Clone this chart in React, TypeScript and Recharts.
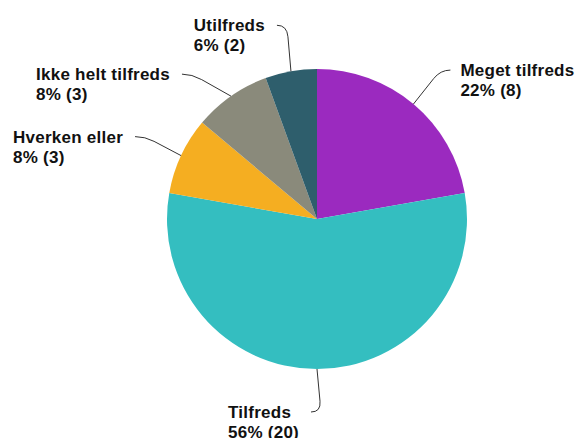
import React from 'react';
import { PieChart, Pie, Cell } from 'recharts';

const categories = ['Meget tilfreds', 'Tilfreds', 'Hverken eller', 'Ikke helt tilfreds', 'Utilfreds'];
const counts = [8, 20, 3, 3, 2];
const colors = ['#9b2abf', '#34bec0', '#f5ae21', '#8a8a7b', '#2e5e6c'];
// where each leader line ends, relative to the slice edge
const labelOffsets = [[37, -34], [-6, 43], [-46, -19], [-49, -22], [-14, -46]];

const data = categories.map((name, i) => ({ name, value: counts[i] }));
const total = counts.reduce((a, b) => a + b, 0);

const RAD = Math.PI / 180;
const FONT = 'bold 17px "Liberation Sans", Arial, sans-serif';
const SPACING = 0.25;

let ctx: CanvasRenderingContext2D | null = null;
const measure = (s: string) => {
  if (!ctx) {
    ctx = document.createElement('canvas').getContext('2d');
  }
  if (!ctx) return s.length * 9;
  ctx.font = FONT;
  return ctx.measureText(s).width + s.length * SPACING;
};

const renderLabel = (props: any) => {
  const { cx, cy, midAngle, outerRadius, name, value, index } = props;
  const cos = Math.cos(-midAngle * RAD);
  const sin = Math.sin(-midAngle * RAD);
  const right = cos > 0.01;
  const dir = right ? 1 : -1;
  const x0 = cx + outerRadius * cos;
  const y0 = cy + outerRadius * sin;
  const [dx, dy] = labelOffsets[index] || [dir * 40, 0];
  const x2 = x0 + dx;
  const y2 = y0 + dy;
  const xc = x2 - dir * 10;
  const yc = y2;
  const xa = x0 + (xc - x0) * 0.75;
  const ya = y0 + (yc - y0) * 0.75;
  const pct = Math.round((value / total) * 100);
  const line1 = name;
  const line2 = `${pct}% (${value})`;
  const w = Math.max(measure(line1), measure(line2));
  const tx = right ? x2 + 10 : x2 - 12 - w;
  return (
    <g>
      <path d={`M${x0},${y0} L${xa},${ya} Q${xc},${yc} ${x2},${y2}`} stroke="#333" strokeWidth={1} fill="none" />
      <text x={tx} y={y2 + 6} fill="#111" style={{ font: FONT, letterSpacing: SPACING }} textAnchor="start">
        <tspan x={tx} dy={0}>{line1}</tspan>
        <tspan x={tx} dy={20}>{line2}</tspan>
      </text>
    </g>
  );
};

export default function App() {
  return (
    <div>
      <style>{'body{margin:0;background:#fff}'}</style>
      <PieChart width={575} height={438} margin={{ top: 0, right: 0, bottom: 0, left: 0 }}>
        <Pie
          data={data}
          dataKey="value"
          nameKey="name"
          cx={317}
          cy={219}
          outerRadius={150}
          startAngle={90}
          endAngle={-270}
          stroke="none"
          label={renderLabel}
          labelLine={false}
          isAnimationActive={false}
        >
          {data.map((d, i) => (
            <Cell key={d.name} fill={colors[i]} />
          ))}
        </Pie>
      </PieChart>
    </div>
  );
}
